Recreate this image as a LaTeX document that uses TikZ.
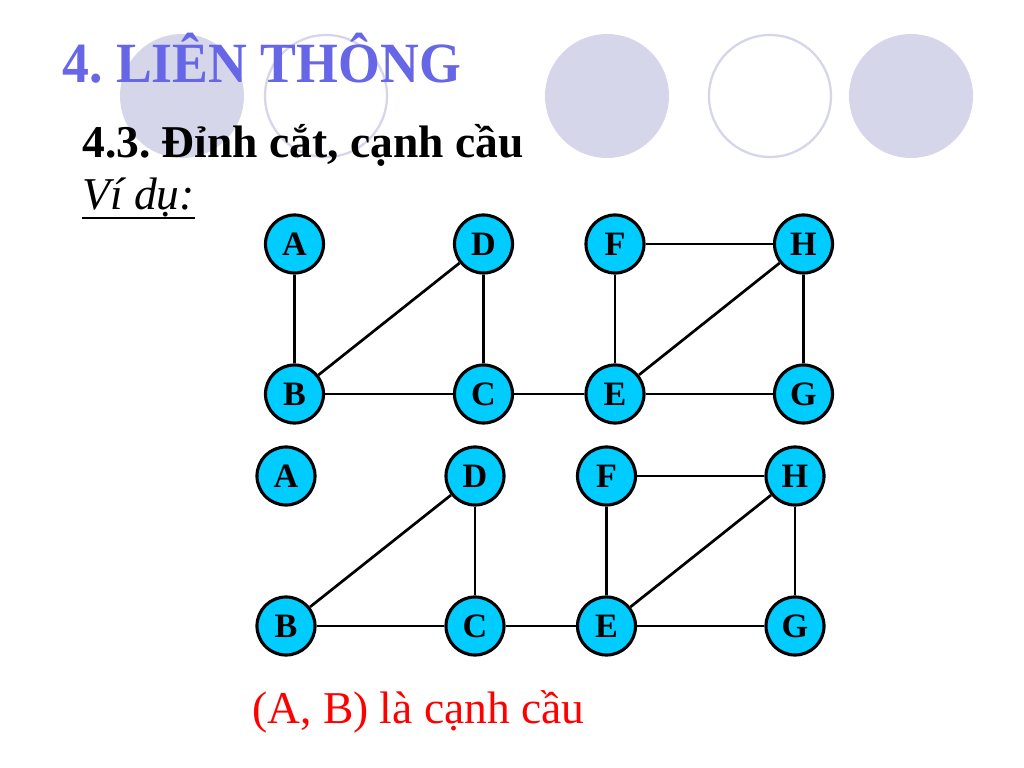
\documentclass[tikz,border=0pt]{standalone}
\usepackage{fontspec}
\usepackage{graphicx}
\setmainfont{Liberation Serif}
\definecolor{titleblue}{RGB}{102,102,230}
\definecolor{lav}{RGB}{214,214,234}
\definecolor{nodecyan}{RGB}{0,204,255}
\definecolor{redtext}{RGB}{255,0,0}
\begin{document}
\frenchspacing
\begin{tikzpicture}[x=0.703125pt,y=-0.703125pt,
  vtx/.style={circle,draw=black,line width=2.2pt,fill=nodecyan,minimum size=40.8pt,inner sep=0pt,font=\fontsize{24}{28}\selectfont\bfseries},
  edge/.style={line width=1.9pt,draw=black},
  deco/.style={fill=lav},
  decoring/.style={draw=lav,line width=1.6pt},
  txt/.style={inner sep=0pt,anchor=base west}]
\useasboundingbox (0,0) rectangle (1024,768);
\fill[white] (0,0) rectangle (1024,768);
% background decoration circles
\fill[deco] (182,96) circle (62);
\draw[decoring] (326,96) circle (61);
\fill[deco] (607,96) circle (62);
\draw[decoring] (770,96) circle (61);
\fill[deco] (911,96) circle (62);
% texts
\node[txt,text=titleblue,font=\fontsize{40}{48}\selectfont\bfseries] (title) at (62,83) {\scalebox{0.945}[1]{4. LIÊN THÔNG}};
\node[txt,font=\fontsize{32}{38}\selectfont\bfseries] (head) at (82,158) {4.3. Đỉnh cắt, cạnh cầu};
\node[txt,font=\fontsize{32}{38}\selectfont\itshape] (vidu) at (82,210) {Ví dụ:};
\draw[line width=1.2pt] ([yshift=-5.8pt]vidu.base west) -- ([yshift=-5.8pt]vidu.base east);
\node[txt,text=redtext,font=\fontsize{32}{38}\selectfont] (note) at (252,723) {(A, B) là cạnh cầu};
% top graph
\node[vtx] (A1) at (294.5,244) {A};
\node[vtx] (D1) at (483.5,244) {D};
\node[vtx] (F1) at (615,244) {F};
\node[vtx] (H1) at (803.5,244) {H};
\node[vtx] (B1) at (294.5,394) {B};
\node[vtx] (C1) at (483.5,394) {C};
\node[vtx] (E1) at (615,394) {E};
\node[vtx] (G1) at (803.5,394) {G};
\draw[edge] (A1) -- (B1);
\draw[edge] (B1) -- (D1);
\draw[edge] (D1) -- (C1);
\draw[edge] (B1) -- (C1);
\draw[edge] (C1) -- (E1);
\draw[edge] (F1) -- (E1);
\draw[edge] (F1) -- (H1);
\draw[edge] (E1) -- (H1);
\draw[edge] (H1) -- (G1);
\draw[edge] (E1) -- (G1);
% bottom graph
\node[vtx] (A2) at (286,476) {A};
\node[vtx] (D2) at (475,476) {D};
\node[vtx] (F2) at (606.5,476) {F};
\node[vtx] (H2) at (795,476) {H};
\node[vtx] (B2) at (286,626) {B};
\node[vtx] (C2) at (475,626) {C};
\node[vtx] (E2) at (606.5,626) {E};
\node[vtx] (G2) at (795,626) {G};
\draw[edge] (B2) -- (D2);
\draw[edge] (D2) -- (C2);
\draw[edge] (B2) -- (C2);
\draw[edge] (C2) -- (E2);
\draw[edge] (F2) -- (E2);
\draw[edge] (F2) -- (H2);
\draw[edge] (E2) -- (H2);
\draw[edge] (H2) -- (G2);
\draw[edge] (E2) -- (G2);
\end{tikzpicture}
\end{document}
